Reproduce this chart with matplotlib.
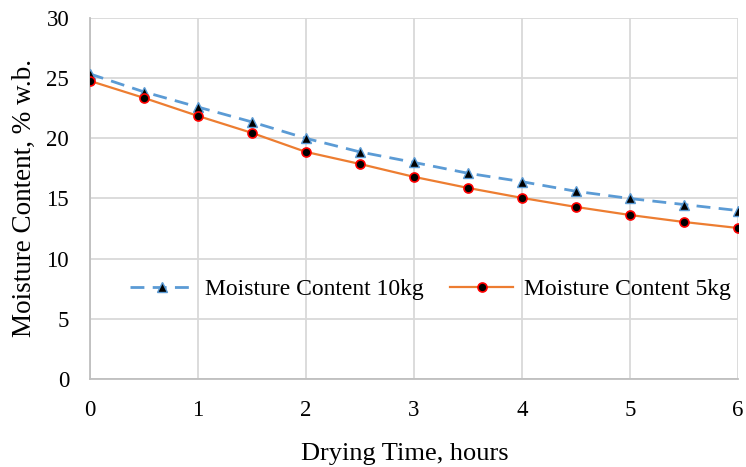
import matplotlib
matplotlib.use("Agg")
import matplotlib.pyplot as plt

time_h = [0, 0.5, 1, 1.5, 2, 2.5, 3, 3.5, 4, 4.5, 5, 5.5, 6]
mc_10kg = [25.35, 23.86, 22.6, 21.36, 20.0, 18.87, 18.0, 17.1, 16.4, 15.6, 15.0, 14.5, 14.0]
mc_5kg = [24.77, 23.36, 21.86, 20.45, 18.87, 17.87, 16.8, 15.88, 15.05, 14.3, 13.63, 13.05, 12.55]

plt.rcParams['font.family'] = ['Liberation Serif', 'DejaVu Serif']

fig = plt.figure(figsize=(7.46, 4.67), dpi=100)
ax = fig.add_axes([0.1206, 0.1884, 0.9890 - 0.1206, 0.9615 - 0.1884])

ax.plot(time_h, mc_10kg, linestyle=(0, (5, 3)), color='#5b9bd5', linewidth=2,
        marker='^', markersize=6.5, markerfacecolor='black', markeredgecolor='#5b9bd5',
        markeredgewidth=1, label='Moisture Content 10kg', zorder=3)
ax.plot(time_h, mc_5kg, linestyle='-', color='#ed7d31', linewidth=1.6,
        marker='o', markersize=6.5, markerfacecolor='black', markeredgecolor='red',
        markeredgewidth=1.2, label='Moisture Content 5kg', zorder=4)

ax.set_xlim(0, 6)
ax.set_ylim(0, 30)
ax.set_xticks(range(0, 7))
ax.set_yticks(range(0, 31, 5))
ax.grid(True, color='#d9d9d9', linewidth=1.3)
ax.set_axisbelow(True)
for s in ['top', 'right']:
    ax.spines[s].set_visible(False)
for s in ['left', 'bottom']:
    ax.spines[s].set_color('#bfbfbf')
    ax.spines[s].set_linewidth(1.3)
ax.tick_params(axis='both', length=0, labelsize=16.5)
ax.tick_params(axis='x', pad=15)
ax.tick_params(axis='y', pad=15)

ax.set_xlabel('Drying Time, hours', fontsize=19)
ax.xaxis.set_label_coords(0.486, -0.177)
ax.set_ylabel('Moisture Content, % w.b.', fontsize=19.5, labelpad=7)

ax.legend(loc='center', bbox_to_anchor=(0.526, 0.249), ncol=2, frameon=False,
          fontsize=17, handlelength=2.7, columnspacing=1.1, handletextpad=0.47)

fig.savefig('out.png', dpi=100)
